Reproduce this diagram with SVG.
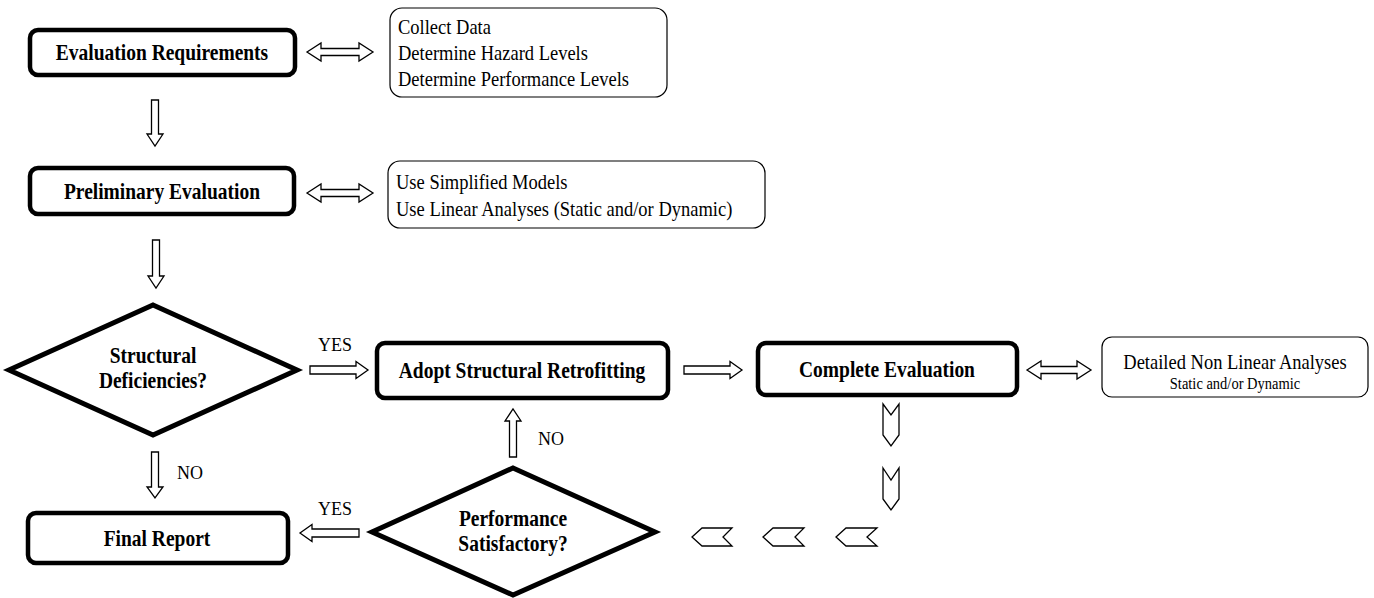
<svg xmlns="http://www.w3.org/2000/svg" width="1374" height="598" viewBox="0 0 1374 598">
<style>
.box{fill:#fff;stroke:#000;stroke-width:4.5}
.dia{fill:#fff;stroke:#000;stroke-width:5;stroke-linejoin:miter}
.info{fill:#fff;stroke:#000;stroke-width:1.2}
.arr{fill:#fff;stroke:#000;stroke-width:1.3;stroke-linejoin:miter}
.b{font-family:"Liberation Serif","Times New Roman",serif;font-weight:bold;font-size:19.5px;text-anchor:middle;fill:#000}
.t{font-family:"Liberation Serif","Times New Roman",serif;font-size:18.5px;fill:#000}
.m{text-anchor:middle}
.s{font-family:"Liberation Serif","Times New Roman",serif;font-size:14.5px;fill:#000;text-anchor:middle}
.l{font-family:"Liberation Serif","Times New Roman",serif;font-size:18px;fill:#000}
</style>
<rect width="1374" height="598" fill="#fff"/>

<g id="eval-req">
<rect class="box" x="30" y="30" width="265" height="45" rx="8"/>
<text class="b" transform="translate(162 60) scale(1 1.15)">Evaluation Requirements</text>
</g>
<g id="info-1">
<rect class="info" x="390" y="8" width="277" height="89" rx="12"/>
<text class="t" transform="translate(398 34) scale(1 1.1)">Collect Data</text>
<text class="t" transform="translate(398 60) scale(1 1.1)">Determine Hazard Levels</text>
<text class="t" transform="translate(398 86) scale(1 1.1)">Determine Performance Levels</text>
</g>
<g id="prelim">
<rect class="box" x="30" y="168" width="264" height="46" rx="8"/>
<text class="b" transform="translate(162 199) scale(1 1.15)">Preliminary Evaluation</text>
</g>
<g id="info-2">
<rect class="info" x="388" y="161" width="377" height="67" rx="12"/>
<text class="t" transform="translate(396 189) scale(1 1.1)">Use Simplified Models</text>
<text class="t" transform="translate(396 216) scale(1 1.1)">Use Linear Analyses (Static and/or Dynamic)</text>
</g>
<g id="struct-def">
<polygon class="dia" points="153,305 297,370 153,435 9,370"/>
<text class="b" transform="translate(153 363) scale(1 1.15)">Structural</text>
<text class="b" transform="translate(153 388) scale(1 1.15)">Deficiencies?</text>
</g>
<g id="adopt">
<rect class="box" x="377" y="343" width="291" height="55" rx="8"/>
<text class="b" transform="translate(522 378) scale(1 1.15)">Adopt Structural Retrofitting</text>
</g>
<g id="complete">
<rect class="box" x="758" y="343" width="259" height="52" rx="8"/>
<text class="b" transform="translate(887 377) scale(1 1.15)">Complete Evaluation</text>
</g>
<g id="info-3">
<rect class="info" x="1102" y="337" width="266" height="60" rx="10"/>
<text class="t m" transform="translate(1235 369) scale(1 1.1)">Detailed Non Linear Analyses</text>
<text class="s" transform="translate(1235 389) scale(1 1.1)">Static and/or Dynamic</text>
</g>
<g id="final">
<rect class="box" x="28" y="513" width="260" height="50" rx="8"/>
<text class="b" transform="translate(157 546) scale(1 1.15)">Final Report</text>
</g>
<g id="perf">
<polygon class="dia" points="513,468 655,532 513,595 372,532"/>
<text class="b" transform="translate(513 526) scale(1 1.15)">Performance</text>
<text class="b" transform="translate(513 551) scale(1 1.15)">Satisfactory?</text>
</g>

<g id="connectors">
<polygon class="arr" points="307,52 321,43 321,48.5 359,48.5 359,43 373,52 359,61 359,55.5 321,55.5 321,61"/>
<polygon class="arr" points="307,193 321,184 321,189.5 359,189.5 359,184 373,193 359,202 359,196.5 321,196.5 321,202"/>
<polygon class="arr" points="1027,370 1041,361 1041,366.5 1077,366.5 1077,361 1091,370 1077,379 1077,373.5 1041,373.5 1041,379"/>
<polygon class="arr" points="151.5,100 158.5,100 158.5,134 163,134 155,146 147,134 151.5,134"/>
<polygon class="arr" points="152.5,240 159.5,240 159.5,276 164,276 156,288 148,276 152.5,276"/>
<polygon class="arr" points="151.5,452 158.5,452 158.5,487 163,487 155,498 147,487 151.5,487"/>
<polygon class="arr" points="310,366 356,366 356,361.5 368,370 356,378.5 356,374 310,374"/>
<polygon class="arr" points="684,366 730,366 730,361.5 742,370 730,378.5 730,374 684,374"/>
<polygon class="arr" points="359,529 312,529 312,524.5 300,533 312,541.5 312,537 359,537"/>
<polygon class="arr" points="509.5,457 516.5,457 516.5,421 521,421 513,409 505,421 509.5,421"/>
<polygon class="arr" points="883,404 891,415 899,404 899,435 891,446 883,435"/>
<polygon class="arr" points="883,468 891,480 899,468 899,499 891,510 883,499"/>
<polygon class="arr" points="692,537 702,528 732,528 723,537 732,546 702,546"/>
<polygon class="arr" points="763,537 773,528 804,528 795,537 804,546 773,546"/>
<polygon class="arr" points="836,537 846,528 877,528 867,537 877,546 846,546"/>
</g>
<g id="labels">
<text class="l" transform="translate(318 351) scale(1 1.1)">YES</text>
<text class="l" transform="translate(177 479) scale(1 1.1)">NO</text>
<text class="l" transform="translate(538 445) scale(1 1.1)">NO</text>
<text class="l" transform="translate(318 515) scale(1 1.1)">YES</text>
</g>
</svg>
